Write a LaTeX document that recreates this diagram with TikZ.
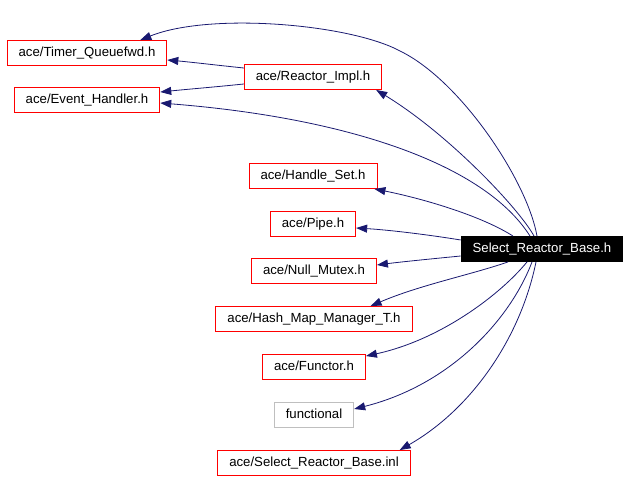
\documentclass[tikz,border=0pt]{standalone}
\usepackage{fontspec}
\setmainfont{Liberation Sans}
\usetikzlibrary{arrows.meta}
\definecolor{edgeblue}{HTML}{191970}
\definecolor{boxred}{HTML}{FF0000}
\definecolor{boxgray}{HTML}{BFBFBF}
\begin{document}
\begin{tikzpicture}[x=1bp,y=-1bp,
    file/.style={draw=boxred,line width=0.9bp,fill=white,minimum height=25bp,inner xsep=11.5bp,inner ysep=0pt,
        text height=9.5bp,text depth=2.5bp,font=\fontsize{13.2bp}{15bp}\selectfont},
    sysfile/.style={file,draw=boxgray},
    mainfile/.style={file,draw=black,fill=black,text=white},
    dep/.style={edgeblue,line width=0.8bp,-{Triangle[length=11bp,width=8bp]}}]
        \useasboundingbox (0,0) rectangle (629,481);
        %% Files
        \node[file] (tq) at (87,53) {ace/Timer\_Queuefwd.h};
        \node[file] (ri) at (313,77) {ace/Reactor\_Impl.h};
        \node[file] (eh) at (87,100) {ace/Event\_Handler.h};
        \node[file] (hs) at (313,176) {ace/Handle\_Set.h};
        \node[file] (pp) at (313,224) {ace/Pipe.h};
        \node[mainfile] (srb) at (542,249) {Select\_Reactor\_Base.h};
        \node[file] (nm) at (314,271) {ace/Null\_Mutex.h};
        \node[file] (hm) at (314,319) {ace/Hash\_Map\_Manager\_T.h};
        \node[file] (fu) at (314,367) {ace/Functor.h};
        \node[sysfile] (fl) at (314,415) {functional};
        \node[file] (inl) at (314,463) {ace/Select\_Reactor\_Base.inl};
        %% Includes of Reactor_Impl
        \draw[dep] ([yshift=9bp]ri.west) .. controls (215,65) and (190,62) .. ([yshift=-7bp]tq.east);
        \draw[dep] ([yshift=-7bp]ri.west) .. controls (215,87) and (190,89) .. ([yshift=8bp]eh.east);
        %% Includes of Select_Reactor_Base
        \draw[dep] ([xshift=-5bp]srb.north) .. controls (527,180) and (460,80) .. (400,51)
            .. controls (350,24) and (210,12) .. ([xshift=-27bp]tq.north east);
        \draw[dep] ([xshift=-8bp]srb.north) .. controls (520,210) and (450,135) .. ([xshift=-6bp]ri.south east);
        \draw[dep] ([xshift=-12bp]srb.north) .. controls (485,165) and (350,118) .. ([yshift=-3bp]eh.east);
        \draw[dep] ([xshift=-29bp]srb.north) .. controls (480,215) and (420,198) .. ([xshift=-3bp]hs.south east);
        \draw[dep] ([yshift=9bp]srb.west) .. controls (430,235) and (390,230) .. ([yshift=-4bp]pp.east);
        \draw[dep] ([yshift=-7bp]srb.west) .. controls (430,259) and (400,262) .. ([yshift=6bp]nm.east);
        \draw[dep] ([xshift=-34bp]srb.south) .. controls (470,275) and (420,285) .. ([xshift=-42bp]hm.north east);
        \draw[dep] ([xshift=-15bp]srb.south) .. controls (500,295) and (440,340) .. ([yshift=-2bp]fu.north east);
        \draw[dep] ([xshift=-10bp]srb.south) .. controls (510,320) and (450,385) .. ([yshift=6bp]fl.east);
        \draw[dep] ([xshift=-6bp]srb.south) .. controls (520,340) and (470,410) .. ([xshift=-11bp]inl.north east);
\end{tikzpicture}
\end{document}
